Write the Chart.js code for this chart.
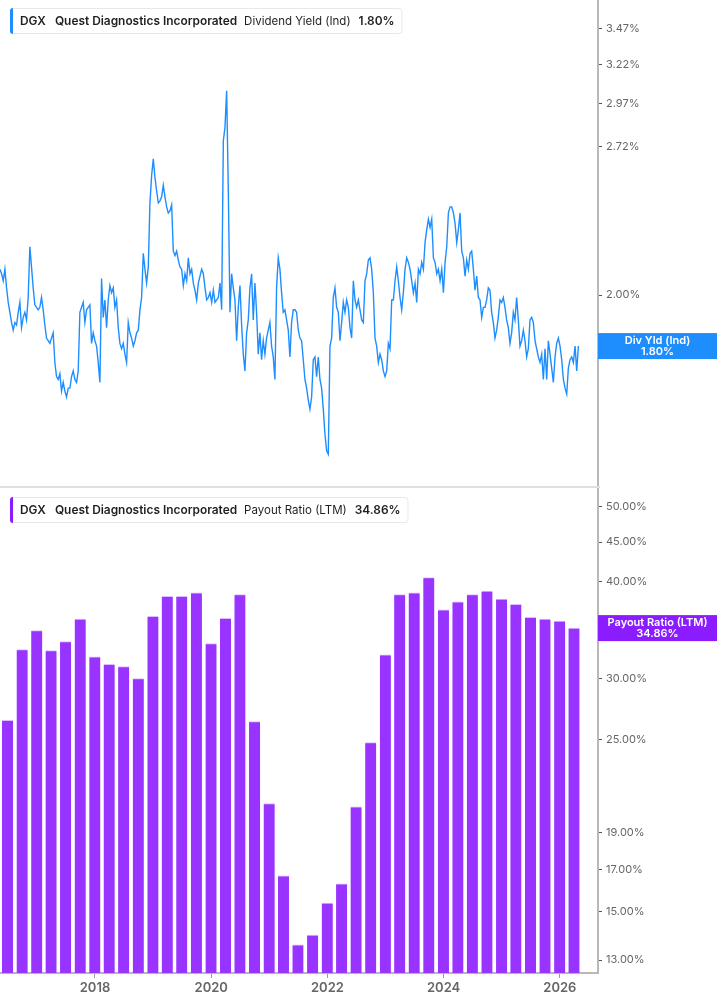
<!DOCTYPE html>
<html>
<head>
<meta charset="utf-8">
<script src="https://cdn.jsdelivr.net/npm/chart.js@4.4.1/dist/chart.umd.min.js"></script>
<style>
    html, body { margin: 0; padding: 0; background: #fff; }
    body { width: 717px; height: 1005px; position: relative; overflow: hidden; font-family: Inter, 'Noto Sans', sans-serif; }
    #topWrap { position: absolute; left: 0; top: 0; width: 717px; height: 486px; }
    #sep { position: absolute; left: 0; top: 486px; width: 600px; height: 2px; background: #e0e0e0; }
    #botWrap { position: absolute; left: 0; top: 488px; width: 717px; height: 517px; }
</style>
</head>
<body>
<div id="topWrap"><canvas id="yieldChart"></canvas></div>
<div id="sep"></div>
<div id="botWrap"><canvas id="payoutChart"></canvas></div>

<script>
// 배당수익률 (Dividend Yield, %) - 2016-05 부터 약 10.5일 간격
const yieldStart = '2016-05-13';
const yieldStepDays = 10.48;
const yieldValues = [
    2.11, 2.09, 2.06, 2.11, 2.03, 1.97, 1.93, 1.89, 1.86, 1.89,
    1.88, 1.93, 1.97, 1.87, 1.91, 1.93, 1.90, 1.99, 2.21, 2.12,
    2.03, 1.96, 1.95, 1.94, 1.95, 1.99, 1.94, 1.88, 1.83, 1.82,
    1.81, 1.83, 1.85, 1.74, 1.69, 1.68, 1.70, 1.64, 1.67, 1.64,
    1.62, 1.65, 1.65, 1.69, 1.71, 1.68, 1.67, 1.71, 1.93, 1.95,
    1.97, 1.89, 1.94, 1.95, 1.96, 1.81, 1.85, 1.82, 1.80, 1.74,
    1.67, 2.07, 1.91, 1.98, 1.87, 1.98, 2.04, 2.01, 2.03, 1.95,
    1.98, 1.87, 1.81, 1.79, 1.81, 1.77, 1.74, 1.89, 1.85, 1.83,
    1.80, 1.82, 1.85, 1.86, 1.94, 1.99, 2.18, 2.11, 2.05, 2.12,
    2.42, 2.56, 2.65, 2.55, 2.48, 2.42, 2.43, 2.45, 2.51, 2.45,
    2.40, 2.37, 2.38, 2.41, 2.19, 2.17, 2.19, 2.15, 2.12, 2.11,
    2.04, 2.09, 2.06, 2.16, 2.09, 2.11, 2.05, 2.02, 1.98, 2.05,
    2.08, 2.11, 2.09, 2.03, 1.98, 1.99, 2.01, 1.97, 2.02, 1.97,
    1.98, 1.99, 2.05, 1.94, 2.75, 2.83, 3.05, 2.48, 1.93, 2.09,
    2.03, 1.98, 1.82, 1.95, 2.04, 1.88, 1.77, 1.71, 1.85, 1.90,
    2.03, 2.09, 1.90, 2.05, 1.93, 1.77, 1.85, 1.75, 1.82, 1.77,
    1.83, 1.86, 1.89, 1.80, 1.76, 1.68, 2.03, 2.16, 2.11, 2.01,
    1.93, 1.94, 1.90, 1.86, 1.76, 1.89, 1.94, 1.94, 1.93, 1.86,
    1.83,
    1.82, 1.75, 1.68, 1.65, 1.61, 1.58, 1.62, 1.75, 1.76, 1.69,
    1.76, 1.68, 1.65, 1.58, 1.50, 1.45, 1.44, 1.80, 1.83, 1.99,
    2.03, 1.95, 1.93, 1.82, 1.89, 1.97, 1.93, 1.98, 1.95, 1.87,
    1.83, 2.06, 1.98, 1.95, 1.98, 1.94, 1.90, 1.89, 2.06, 2.09,
    2.15, 2.16, 2.11, 2.01, 1.83, 1.80, 1.74, 1.77, 1.75, 1.71,
    1.69, 1.71, 1.81, 1.79, 1.98, 1.98, 2.06, 2.12, 2.06, 1.99,
    1.94, 2.01, 2.11, 2.16, 2.14, 2.11, 2.06, 2.01, 2.05, 1.97,
    2.11, 2.09, 2.14, 2.11, 2.23, 2.29, 2.34, 2.30, 2.34, 2.16,
    2.14, 2.09, 2.11, 2.06, 2.11, 2.01, 2.14, 2.21, 2.37, 2.40,
    2.40, 2.37, 2.32, 2.23, 2.29, 2.37, 2.19, 2.16, 2.08, 2.15,
    2.11, 2.18, 2.19, 2.11, 2.02, 2.08, 1.99, 1.98, 1.91, 1.95,
    1.95, 1.98, 2.03, 2.02, 1.93, 1.89, 1.83, 1.86, 1.91, 1.98,
    1.97, 1.99, 1.95, 1.90, 1.87, 1.81, 1.85, 1.93, 1.90, 1.99,
    1.90, 1.80, 1.82, 1.86, 1.82, 1.76, 1.79, 1.90, 1.91, 1.89,
    1.82, 1.79, 1.76, 1.74, 1.77, 1.68, 1.79, 1.68, 1.82, 1.77,
    1.72, 1.67, 1.76, 1.81, 1.83, 1.80, 1.75, 1.68, 1.65, 1.63,
    1.72, 1.75, 1.76, 1.74, 1.80, 1.71, 1.80
];

// 배당성향 (Payout Ratio LTM, %) - 분기말 기준
const payoutDates = [
    '2016-06-30', '2016-09-30', '2016-12-31',
    '2017-03-31', '2017-06-30', '2017-09-30', '2017-12-31',
    '2018-03-31', '2018-06-30', '2018-09-30', '2018-12-31',
    '2019-03-31', '2019-06-30', '2019-09-30', '2019-12-31',
    '2020-03-31', '2020-06-30', '2020-09-30', '2020-12-31',
    '2021-03-31', '2021-06-30', '2021-09-30', '2021-12-31',
    '2022-03-31', '2022-06-30', '2022-09-30', '2022-12-31',
    '2023-03-31', '2023-06-30', '2023-09-30', '2023-12-31',
    '2024-03-31', '2024-06-30', '2024-09-30', '2024-12-31',
    '2025-03-31', '2025-06-30', '2025-09-30', '2025-12-31',
    '2026-03-31'
];
const payoutValues = [
    26.5, 32.7, 34.6,
    32.6, 33.5, 35.8, 32.0,
    31.3, 31.1, 30.0, 36.1,
    38.3, 38.3, 38.7, 33.3,
    35.9, 38.5, 26.4, 20.7,
    16.7, 13.6, 14.0, 15.4,
    16.3, 20.5, 24.8, 32.2,
    38.5, 38.7, 40.5, 36.8,
    37.7, 38.5, 38.9, 38.0,
    37.4, 36.0, 35.8, 35.6,
    34.86
];

// 축 눈금
const yieldTicks = [3.47, 3.22, 2.97, 2.72, 2.00];
const payoutTicks = [50, 45, 40, 35, 30, 25, 19, 17, 15, 13];
const yearTicks = [2018, 2020, 2022, 2024, 2026];

const X_MIN = 2016.365;
const X_MAX = 2026.657;
const AXIS_WIDTH = 119;

// 날짜 -> 소수 연도
function toYear(date) {
    const y = date.getUTCFullYear();
    const start = Date.UTC(y, 0, 1);
    const end = Date.UTC(y + 1, 0, 1);
    return y + (date.getTime() - start) / (end - start);
}

const startMs = new Date(yieldStart + 'T00:00:00Z').getTime();
const yieldPoints = yieldValues.map((v, i) => ({
    x: toYear(new Date(startMs + i * yieldStepDays * 86400000)),
    y: v
}));
const payoutPoints = payoutValues.map((v, i) => ({
    x: toYear(new Date(payoutDates[i] + 'T00:00:00Z')),
    y: v
}));

// 좌상단 제목 상자
const titleBox = {
    id: 'titleBox',
    afterDraw(chart, args, opts) {
        const ctx = chart.ctx;
        const parts = opts.parts;
        const gaps = [9, 7, 8];
        const fontOf = p => (p[1] ? '600 11.9px' : '400 11.5px') + ' Inter, sans-serif';
        ctx.save();
        const widths = parts.map(p => {
            ctx.font = fontOf(p);
            return ctx.measureText(p[0]).width;
        });
        const total = widths.reduce((a, b) => a + b, 0) + gaps.reduce((a, b) => a + b, 0);
        const bx = 10, by = opts.top, bh = 25, bw = total + 17;
        ctx.fillStyle = '#fff';
        ctx.strokeStyle = '#e8e8e8';
        ctx.lineWidth = 1;
        ctx.beginPath();
        ctx.roundRect(bx + 0.5, by + 0.5, bw, bh, 3);
        ctx.fill();
        ctx.stroke();
        ctx.fillStyle = opts.accent;
        ctx.beginPath();
        ctx.roundRect(bx, by, 3, bh + 1, [3, 0, 0, 3]);
        ctx.fill();
        let x = 20;
        ctx.fillStyle = '#1f1f1f';
        ctx.textBaseline = 'middle';
        parts.forEach((p, i) => {
            ctx.font = fontOf(p);
            ctx.fillText(p[0], x, by + bh / 2 + 1);
            x += widths[i] + (gaps[i] || 0);
        });
        ctx.restore();
    }
};

// 우측 마지막 값 라벨
const lastLabel = {
    id: 'lastLabel',
    afterDraw(chart, args, opts) {
        const ctx = chart.ctx;
        const data = chart.data.datasets[0].data;
        const last = data[data.length - 1];
        const y = chart.scales.y.getPixelForValue(last.y);
        const left = chart.chartArea.right;
        const w = chart.width - left;
        ctx.save();
        ctx.fillStyle = opts.color;
        ctx.fillRect(left, y - 13, w, 26);
        ctx.fillStyle = '#fff';
        ctx.font = '600 11px Inter, sans-serif';
        ctx.textAlign = 'center';
        ctx.textBaseline = 'middle';
        ctx.fillText(opts.title, left + w / 2, y - 5.5);
        ctx.fillText(last.y.toFixed(2) + '%', left + w / 2, y + 5.5);
        ctx.restore();
    }
};

function yAxis(min, max, ticks) {
    return {
        type: 'logarithmic',
        position: 'right',
        bounds: 'data',
        min: min,
        max: max,
        afterBuildTicks: s => {
            s.ticks = ticks.map(v => ({ value: v }));
            s.min = min;
            s.max = max;
        },
        afterFit: s => {
            s.width = AXIS_WIDTH;
            s.paddingTop = 0;
            s.paddingBottom = 0;
        },
        ticks: {
            autoSkip: false,
            padding: 4,
            color: '#666',
            font: { family: 'Inter', size: 11 },
            callback: v => Number(v).toFixed(2) + '%'
        },
        grid: { drawOnChartArea: false, tickLength: 4, color: '#555' },
        border: { color: '#b8b8b8', width: 2 }
    };
}

// 배당수익률 차트
new Chart(document.getElementById('yieldChart'), {
    type: 'line',
    data: {
        datasets: [{
            data: yieldPoints,
            borderColor: '#1e8eff',
            borderWidth: 1.4,
            pointRadius: 0,
            tension: 0
        }]
    },
    options: {
        responsive: true,
        maintainAspectRatio: false,
        animation: false,
        layout: { padding: 0 },
        plugins: {
            legend: { display: false },
            tooltip: { enabled: false },
            titleBox: {
                top: 8,
                accent: '#1e8eff',
                parts: [['DGX', true], ['Quest Diagnostics Incorporated', true], ['Dividend Yield (Ind)', false], ['1.80%', true]]
            },
            lastLabel: { color: '#1e8eff', title: 'Div Yld (Ind)' }
        },
        scales: {
            x: { type: 'linear', bounds: 'data', min: X_MIN, max: X_MAX, display: false },
            y: yAxis(1.348, 3.68, yieldTicks)
        }
    },
    plugins: [titleBox, lastLabel]
});

// 배당성향 차트
new Chart(document.getElementById('payoutChart'), {
    type: 'bar',
    data: {
        datasets: [{
            data: payoutPoints,
            backgroundColor: '#9933ff',
            borderColor: '#dcbcff',
            borderWidth: { top: 1, left: 0, right: 0, bottom: 0 },
            barThickness: 11
        }]
    },
    options: {
        responsive: true,
        maintainAspectRatio: false,
        animation: false,
        layout: { padding: 0 },
        plugins: {
            legend: { display: false },
            tooltip: { enabled: false },
            titleBox: {
                top: 9,
                accent: '#8a1cff',
                parts: [['DGX', true], ['Quest Diagnostics Incorporated', true], ['Payout Ratio (LTM)', false], ['34.86%', true]]
            },
            lastLabel: { color: '#8a1cff', title: 'Payout Ratio (LTM)' }
        },
        scales: {
            x: {
                type: 'linear',
                bounds: 'data',
                min: X_MIN,
                max: X_MAX,
                offset: false,
                afterBuildTicks: s => { s.ticks = yearTicks.map(v => ({ value: v })); },
                afterFit: s => {
                    s.height = 32;
                    s.paddingLeft = 0;
                    s.paddingRight = 0;
                },
                ticks: {
                    autoSkip: false,
                    maxRotation: 0,
                    padding: 2,
                    color: '#666',
                    font: { family: 'Inter', size: 13, weight: '600' },
                    callback: v => String(v)
                },
                grid: { drawOnChartArea: false, offset: false, tickLength: 5, color: '#999' },
                border: { color: '#b8b8b8', width: 2 }
            },
            y: yAxis(12.51, 52.86, payoutTicks)
        }
    },
    plugins: [titleBox, lastLabel]
});
</script>
</body>
</html>
